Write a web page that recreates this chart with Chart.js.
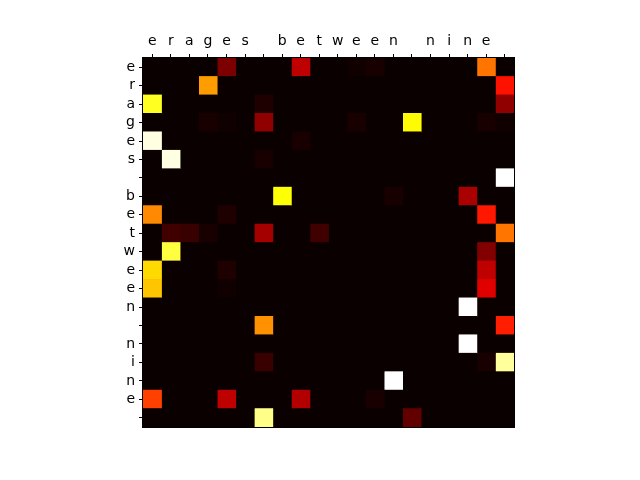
<!DOCTYPE html>
<html>
<head>
<meta charset="utf-8">
<script src="https://cdn.jsdelivr.net/npm/chart.js@4/dist/chart.umd.min.js"></script>
<style>
  html, body { margin: 0; padding: 0; background: #fff; }
  canvas { display: block; }
</style>
</head>
<body>
<canvas id="heat" width="640" height="480"></canvas>
<script>
// etiquetas das colunas (chaves) e das linhas (consultas)
var xLabels = ['e','r','a','g','e','s',' ','b','e','t','w','e','e','n',' ','n','i','n','e',' ']
var yLabels = ['e','r','a','g','e','s',' ','b','e','t','w','e','e','n',' ','n','i','n','e',' ']

// pesos de atencao, uma linha por consulta
var row0  = [0,0,0,0,.17,0,0,0,.27,0,0,.01,.02,0,0,0,0,0,.54,0]
var row1  = [0,0,0,.60,0,0,0,0,0,0,0,0,0,0,0,0,0,0,0,.39]
var row2  = [.78,0,0,0,0,0,.03,0,0,0,0,0,0,0,0,0,0,0,0,.20]
var row3  = [0,0,0,.02,.01,0,.20,0,0,0,0,.02,0,0,.74,0,0,0,.02,.01]
var row4  = [.97,0,0,0,0,0,0,0,.02,0,0,0,0,0,0,0,0,0,0,0]
var row5  = [0,.97,0,0,0,0,.02,0,0,0,0,0,0,0,0,0,0,0,0,0]
var row6  = [0,0,0,0,0,0,0,0,0,0,0,0,0,0,0,0,0,0,0,1]
var row7  = [0,0,0,0,0,0,0,.75,0,0,0,0,0,.02,0,0,0,.24,0,0]
var row8  = [.57,0,0,0,.03,0,0,0,0,0,0,0,0,0,0,0,0,0,.40,0]
var row9  = [0,.08,.07,.02,0,0,.23,0,0,.08,0,0,0,0,0,0,0,0,0,.54]
var row10 = [0,.81,0,0,0,0,0,0,0,0,0,0,0,0,0,0,0,0,.18,0]
var row11 = [.69,0,0,0,.03,0,0,0,0,0,0,0,0,0,0,0,0,0,.27,0]
var row12 = [.66,0,0,0,.01,0,0,0,0,0,0,0,0,0,0,0,0,0,.32,0]
var row13 = [0,0,0,0,0,0,0,0,0,0,0,0,0,0,0,0,0,1,0,0]
var row14 = [0,0,0,0,0,0,.58,0,0,0,0,0,0,0,0,0,0,0,0,.41]
var row15 = [0,0,0,0,0,0,0,0,0,0,0,0,0,0,0,0,0,1,0,0]
var row16 = [0,0,0,0,0,0,.07,0,0,0,0,0,0,0,0,0,0,0,.02,.90]
var row17 = [0,0,0,0,0,0,0,0,0,0,0,0,0,1,0,0,0,0,0,0]
var row18 = [.46,0,0,0,.27,0,0,0,.25,0,0,0,.02,0,0,0,0,0,0,0]
var row19 = [0,0,0,0,0,0,.88,0,0,0,0,0,0,0,.13,0,0,0,0,0]
var weights = [row0,row1,row2,row3,row4,row5,row6,row7,row8,row9,
               row10,row11,row12,row13,row14,row15,row16,row17,row18,row19]

/** Mapa de cores 'hot' do matplotlib */
function hot(v){
  var r = Math.min(1, 0.0416 + (1 - 0.0416) * v / 0.365079)
  var g = Math.min(1, Math.max(0, (v - 0.365079) / (0.746032 - 0.365079)))
  var b = Math.min(1, Math.max(0, (v - 0.746032) / (1 - 0.746032)))
  return 'rgb(' + Math.round(r*255) + ',' + Math.round(g*255) + ',' + Math.round(b*255) + ')'
}

// um dataset por coluna, barras empilhadas de largura 1
var datasets = []
for(var j in xLabels){
  datasets.push({
    data: yLabels.map(() => 1),
    backgroundColor: weights.map(row => hot(row[j])),
    borderWidth: 0,
    barPercentage: 1,
    categoryPercentage: 1
  })
}

// fundo escuro e moldura da imagem
var framePlugin = {
  id: 'frame',
  beforeDatasetsDraw(chart){
    var a = chart.chartArea, ctx = chart.ctx
    ctx.save()
    ctx.fillStyle = hot(0)
    ctx.fillRect(a.left, a.top, a.right - a.left, a.bottom - a.top)
    ctx.restore()
  },
  afterDraw(chart){
    var a = chart.chartArea, ctx = chart.ctx
    ctx.save()
    ctx.strokeStyle = '#000'
    ctx.lineWidth = 1
    ctx.strokeRect(Math.round(a.left) - 0.5, Math.round(a.top) - 0.5,
                   Math.round(a.right - a.left) + 1, Math.round(a.bottom - a.top) + 1)
    ctx.restore()
  }
}

var tickFont = { family: 'DejaVu Sans', size: 14 }

new Chart('heat', {
  type: 'bar',
  data: { labels: yLabels, datasets: datasets },
  options: {
    indexAxis: 'y',
    responsive: false,
    animation: false,
    layout: { padding: { left: 0, top: 0, right: 126, bottom: 53 } },
    plugins: { legend: { display: false }, tooltip: { enabled: false } },
    scales: {
      x: {
        type: 'linear',
        position: 'top',
        stacked: true,
        min: 0,
        max: 20,
        afterBuildTicks: axis => { axis.ticks = xLabels.map((l, i) => ({ value: i + 0.5 })) },
        afterFit: axis => { axis.height = 58 },
        ticks: {
          autoSkip: false,
          maxRotation: 0,
          color: '#000',
          font: tickFont,
          padding: 4,
          callback: (v, i) => xLabels[i]
        },
        grid: { drawOnChartArea: false, drawTicks: true, tickLength: 4, color: '#000' },
        border: { display: true, color: '#000' }
      },
      y: {
        stacked: true,
        afterFit: axis => { axis.width = 143 },
        ticks: { autoSkip: false, color: '#000', font: tickFont, padding: 4 },
        grid: { drawOnChartArea: false, drawTicks: true, tickLength: 4, color: '#000', offset: false },
        border: { display: true, color: '#000' }
      }
    }
  },
  plugins: [framePlugin]
})
</script>
</body>
</html>
